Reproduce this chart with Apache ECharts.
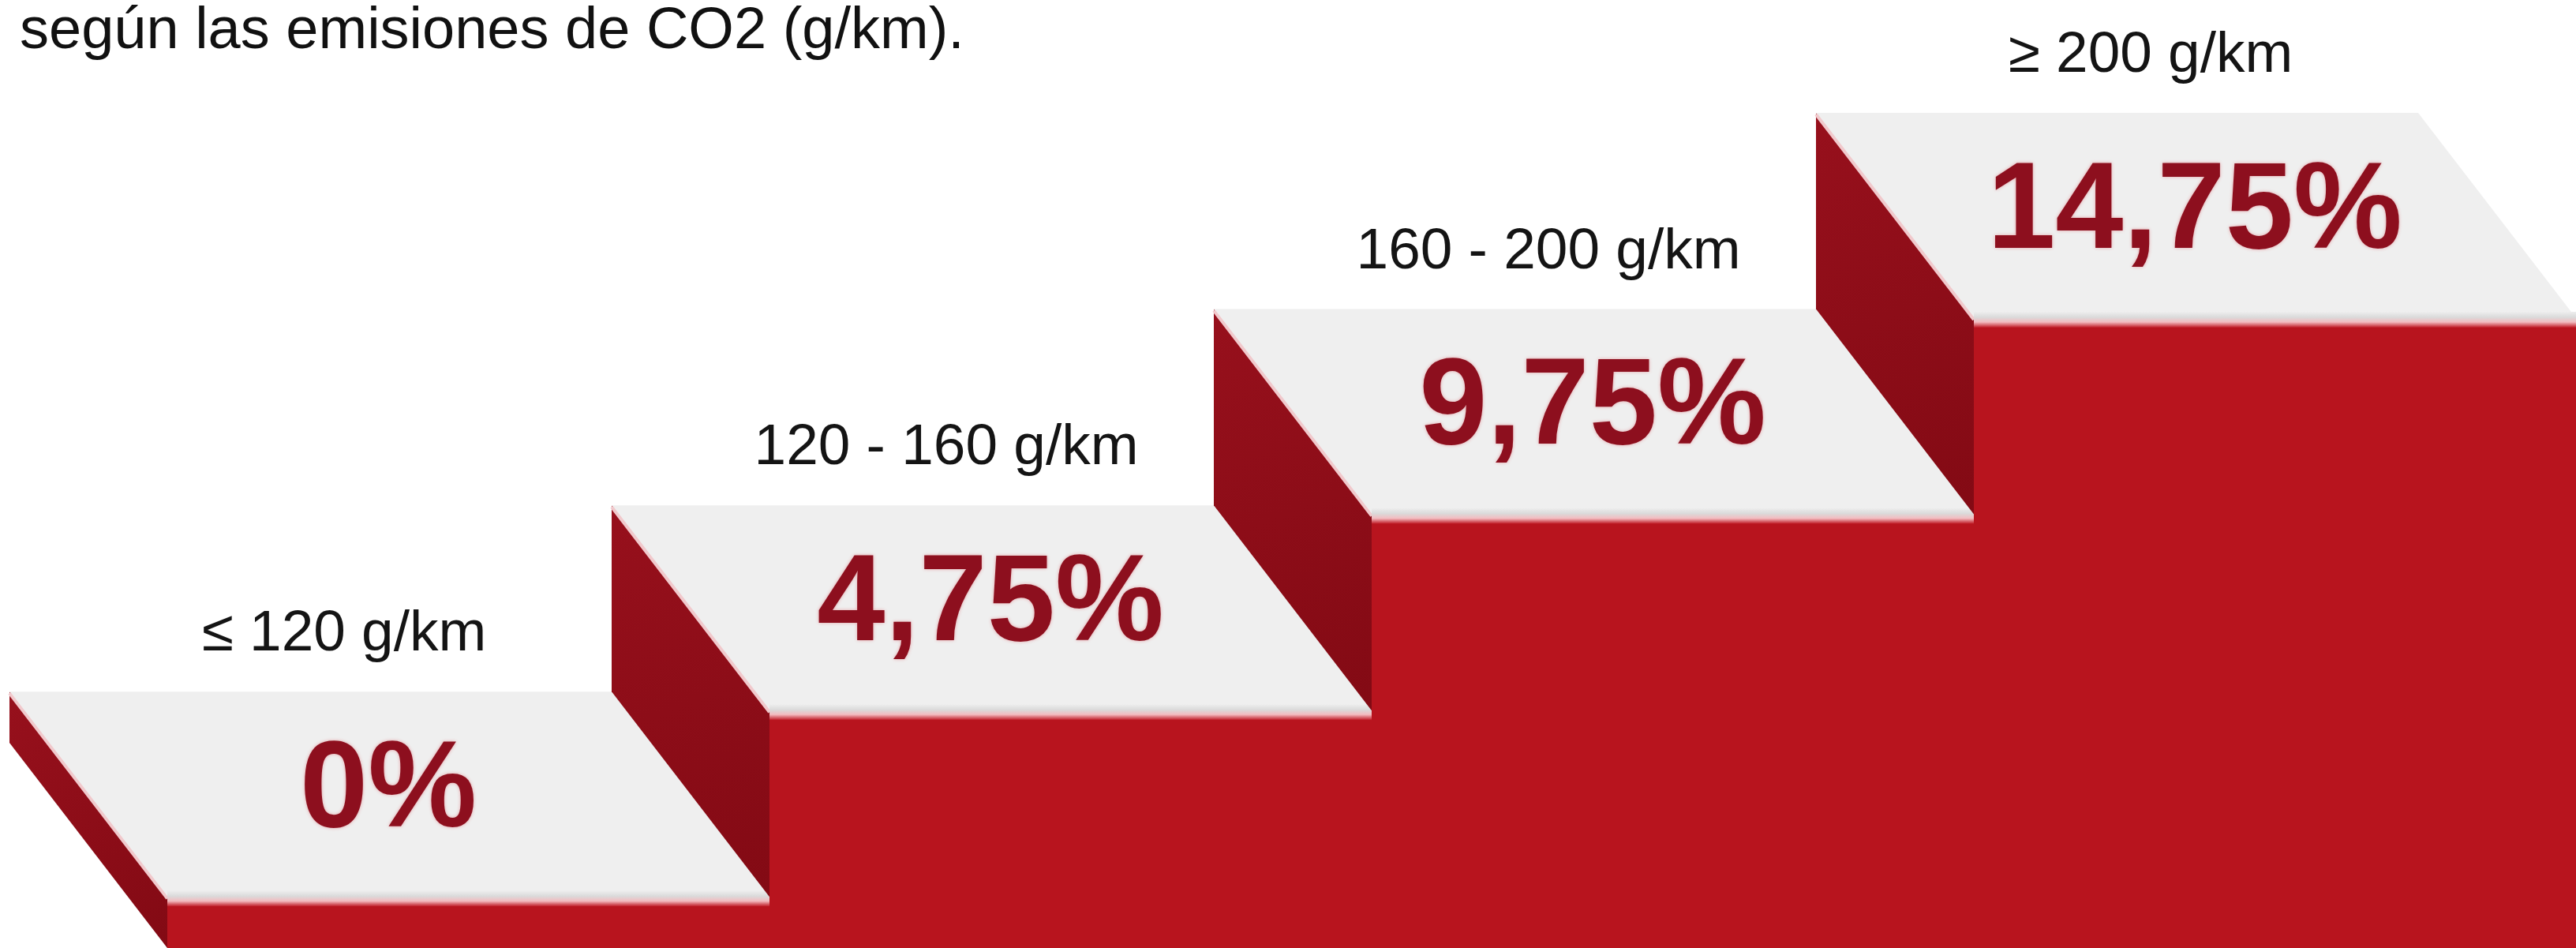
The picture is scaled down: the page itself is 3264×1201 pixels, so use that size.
<!DOCTYPE html>
<html>
<head>
<meta charset="utf-8">
<script src="https://cdn.jsdelivr.net/npm/echarts@6.0.0/dist/echarts.min.js"></script>
<style>
  html, body { margin: 0; padding: 0; background: #ffffff; }
  #chart { width: 3264px; height: 1201px; }
</style>
</head>
<body>
<div id="chart"></div>
<script>
// ---- data ----
const titleText = 'según las emisiones de CO2 (g/km).';
const categories = ['≤ 120 g/km', '120 - 160 g/km', '160 - 200 g/km', '≥ 200 g/km'];
const rates = [0, 4.75, 9.75, 14.75];
const yMin = -1.3;
const yMax = 20;

// ---- styling constants ----
const DEPTH_X = 200;
const DEPTH_Y = 260;
const FONT = '"Liberation Sans", Arial, Helvetica, sans-serif';

function fmtRate(v) {
  return String(v).replace('.', ',') + '%';
}

const seriesData = rates.map((v, i) => [i, v, i === 0 ? yMin : rates[i - 1]]);

const chart = echarts.init(document.getElementById('chart'), null, { renderer: 'canvas' });

function renderStep(params, api) {
  const idx = api.value(0);
  const val = api.value(1);
  const prev = api.value(2);
  const c = api.coord([idx, val]);
  const bw = api.size([1, 0])[0];
  const xL = c[0] - bw / 2;
  const xR = c[0] + bw / 2;
  const yTop = c[1];
  const yBelow = api.coord([idx, prev])[1];
  const cs = params.coordSys;
  const yGround = cs.y + cs.height;

  const G = echarts.graphic;
  const children = [];

  // left side face (riser seen from the side)
  children.push({
    type: 'polygon',
    shape: { points: [[xL - DEPTH_X, yTop - DEPTH_Y], [xL, yTop], [xL, yBelow], [xL - DEPTH_X, yBelow - DEPTH_Y]] },
    style: {
      fill: new G.LinearGradient(0, 0, 1, 1, [
        { offset: 0, color: '#97101c' },
        { offset: 1, color: '#830a14' }
      ])
    }
  });
  // front face
  children.push({
    type: 'rect',
    shape: { x: xL, y: yTop, width: bw, height: yGround - yTop },
    style: { fill: '#b8141e' }
  });
  // top face
  children.push({
    type: 'polygon',
    shape: { points: [[xL - DEPTH_X, yTop - DEPTH_Y], [xR - DEPTH_X, yTop - DEPTH_Y], [xR, yTop], [xL, yTop]] },
    style: { fill: '#efefef' }
  });
  // light edge along the left side of the top face
  children.push({
    type: 'polyline',
    shape: { points: [[xL - DEPTH_X, yTop - DEPTH_Y + 2], [xL, yTop + 2]] },
    style: { stroke: '#f1c9cc', lineWidth: 4, fill: null }
  });
  // front lip
  children.push({
    type: 'rect',
    shape: { x: xL, y: yTop - 8, width: bw, height: 20 },
    style: {
      fill: new G.LinearGradient(0, 0, 0, 1, [
        { offset: 0, color: '#eeeeee' },
        { offset: 0.35, color: '#dadada' },
        { offset: 0.65, color: '#f3bcc0' },
        { offset: 1, color: '#c01b26' }
      ])
    }
  });
  // percent value on the tread
  children.push({
    type: 'text',
    style: {
      x: xL + 280,
      y: yTop - 132,
      text: fmtRate(val),
      font: 'bold 155px ' + FONT,
      fill: '#8d0f1e',
      align: 'center',
      verticalAlign: 'middle',
      textShadowColor: 'rgba(215,70,80,0.45)',
      textShadowBlur: 4
    }
  });
  // category label above the tread
  children.push({
    type: 'text',
    style: {
      x: xL + 224,
      y: yTop - DEPTH_Y - 72,
      text: categories[idx],
      font: '73px ' + FONT,
      fill: '#141414',
      align: 'center',
      verticalAlign: 'middle'
    }
  });
  return { type: 'group', children: children };
}

const option = {
  backgroundColor: '#ffffff',
  animation: false,
  title: {
    text: titleText,
    left: 25,
    top: 4,
    padding: 0,
    textStyle: { fontFamily: FONT, fontSize: 74, fontWeight: 'normal', color: '#111111' }
  },
  grid: { left: 212, right: -28, top: 142, bottom: 0, containLabel: false },
  xAxis: {
    type: 'category',
    data: categories,
    boundaryGap: true,
    show: false
  },
  yAxis: {
    type: 'value',
    min: yMin,
    max: yMax,
    show: false
  },
  series: [{
    type: 'custom',
    renderItem: renderStep,
    clip: false,
    data: seriesData,
    encode: { x: 0, y: 1 }
  }]
};

chart.setOption(option);
</script>
</body>
</html>
